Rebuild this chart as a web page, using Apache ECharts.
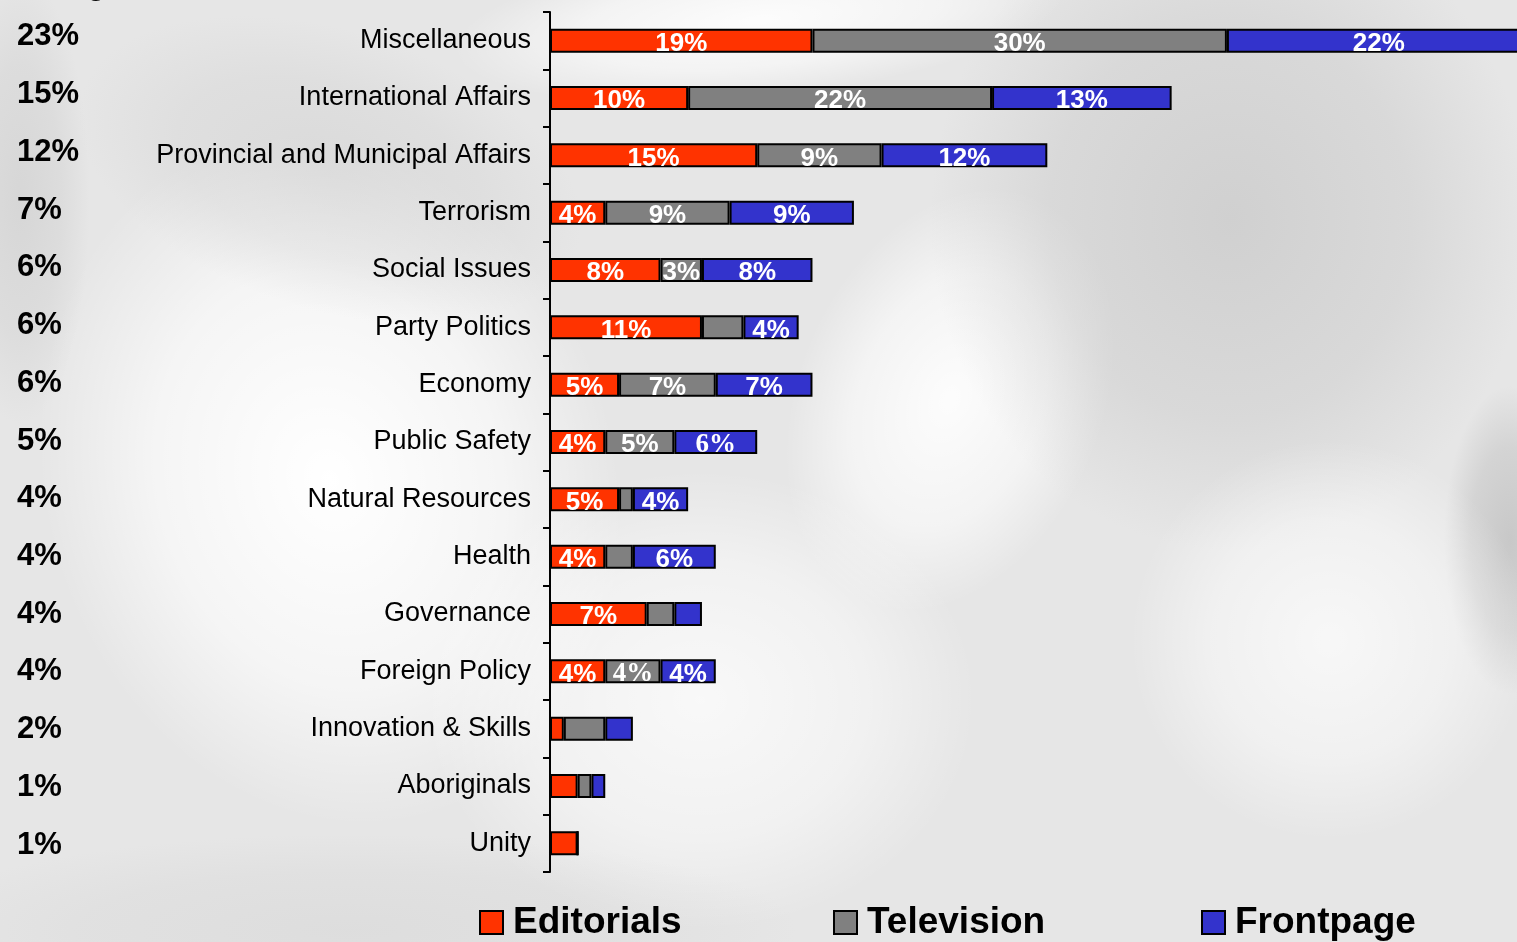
<!DOCTYPE html>
<html>
<head>
<meta charset="utf-8">
<title>Coverage by topic</title>
<script src="https://cdn.jsdelivr.net/npm/echarts@6/dist/echarts.min.js"></script>
<style>
  html, body { margin: 0; padding: 0; background: #e6e6e6; }
  #chart { width: 1517px; height: 942px; }
</style>
</head>
<body>
<div id="chart"></div>
<script>
// Topics, top to bottom
const categories = [
  'Miscellaneous', 'International Affairs', 'Provincial and Municipal Affairs',
  'Terrorism', 'Social Issues', 'Party Politics', 'Economy', 'Public Safety',
  'Natural Resources', 'Health', 'Governance', 'Foreign Policy',
  'Innovation & Skills', 'Aboriginals', 'Unity'
];

// Average share across the three media, shown in the left column
const averageLabels = ['23%', '15%', '12%', '7%', '6%', '6%', '6%', '5%', '4%', '4%', '4%', '4%', '2%', '1%', '1%'];

// Share of each medium's stories per topic (%)
const editorials = [19, 10, 15, 4, 8, 11, 5, 4, 5, 4, 7, 4, 1, 2, 2];
const television = [30, 22, 9, 9, 3, 3, 7, 5, 1, 2, 2, 4, 3, 1, 0];
const frontpage  = [22, 13, 12, 9, 8, 4, 7, 6, 4, 6, 2, 4, 2, 1, 0];

// Which segments carry a value label (1 = labelled)
const editorialsLabelled = [1, 1, 1, 1, 1, 1, 1, 1, 1, 1, 1, 1, 0, 0, 0];
const televisionLabelled = [1, 1, 1, 1, 1, 0, 1, 1, 0, 0, 0, 1, 0, 0, 0];
const frontpageLabelled  = [1, 1, 1, 1, 1, 1, 1, 1, 1, 1, 0, 1, 0, 0, 0];

// A couple of labels were set in a serif face
const televisionSerif = ['Foreign Policy'];
const frontpageSerif  = ['Public Safety'];

const SANS = '"Liberation Sans", Arial, Helvetica, sans-serif';
const SERIF = '"Liberation Serif", "Times New Roman", serif';

function buildItems(values, labelled, serifTopics) {
  return values.map(function (v, i) {
    const item = { value: v, label: { show: labelled[i] === 1 } };
    if (serifTopics.indexOf(categories[i]) >= 0) {
      item.label.fontFamily = SERIF;
      item.label.fontSize = 27;
    }
    return item;
  });
}

const barLabel = {
  show: true,
  position: 'inside',
  offset: [0, 3],
  color: '#ffffff',
  fontFamily: SANS,
  fontWeight: 'bold',
  fontSize: 26,
  formatter: '{c}%'
};

function barSeries(name, color, values, labelled, serifTopics) {
  return {
    name: name,
    type: 'bar',
    stack: 'share',
    xAxisIndex: 0,
    yAxisIndex: 0,
    barWidth: 24,
    clip: false,
    itemStyle: { color: color, borderColor: '#000000', borderWidth: 2 },
    label: barLabel,
    emphasis: { disabled: true },
    data: buildItems(values, labelled, serifTopics)
  };
}

// Soft grey swirl backdrop
function blob(cx, cy, r, sx, sy, rot, color, alpha) {
  return {
    type: 'circle',
    z: -10,
    silent: true,
    x: cx, y: cy, scaleX: sx, scaleY: sy, rotation: rot,
    shape: { cx: 0, cy: 0, r: r },
    style: {
      fill: new echarts.graphic.RadialGradient(0.5, 0.5, 0.5, [
        { offset: 0, color: 'rgba(' + color + ',' + alpha + ')' },
        { offset: 0.6, color: 'rgba(' + color + ',' + (alpha * 0.6) + ')' },
        { offset: 1, color: 'rgba(' + color + ',0)' }
      ])
    }
  };
}

const backdrop = [
  blob(330, 480, 260, 1.1, 1.35, 0.3, '255,255,255', 1),
  blob(950, 400, 170, 0.9, 1.3, -0.4, '255,255,255', 0.9),
  blob(760, 20, 220, 1.4, 0.35, 0.1, '255,255,255', 0.9),
  blob(1230, 220, 300, 1.0, 1.1, 0, '190,190,190', 0.55),
  blob(1510, 540, 110, 0.6, 1.4, 0, '170,170,170', 0.5),
  blob(1330, 640, 200, 1.0, 1.0, 0, '255,255,255', 0.7),
  blob(700, 700, 230, 1.2, 1.0, 0, '255,255,255', 0.75),
  blob(20, 200, 140, 0.5, 1.6, 0, '195,195,195', 0.45),
  blob(330, 170, 200, 1.3, 0.7, -0.3, '200,200,200', 0.4),
  blob(350, 930, 320, 1.4, 0.3, 0, '205,205,205', 0.35)
];

const legendCommon = {
  orient: 'horizontal',
  top: 904,
  padding: 0,
  icon: 'rect',
  itemWidth: 23,
  itemHeight: 23,
  selectedMode: false,
  itemStyle: { borderColor: '#000000', borderWidth: 2 },
  textStyle: {
    color: '#000000',
    fontFamily: SANS,
    fontWeight: 'bold',
    fontSize: 37,
    padding: [0, 0, 0, 5]
  }
};

const chart = echarts.init(document.getElementById('chart'), null, { renderer: 'canvas' });

chart.setOption({
  backgroundColor: '#e6e6e6',
  animation: false,
  graphic: backdrop.concat([
    {
      type: 'text',
      z: 5,
      silent: true,
      x: 5,
      y: -13,
      style: {
        text: 'Average',
        fill: '#000000',
        font: 'bold 30px ' + SANS,
        align: 'left',
        verticalAlign: 'middle'
      }
    }
  ]),
  legend: [
    Object.assign({}, legendCommon, { left: 479, data: ['Editorials'] }),
    Object.assign({}, legendCommon, { left: 833, data: ['Television'] }),
    Object.assign({}, legendCommon, { left: 1201, data: ['Frontpage'] })
  ],
  grid: [
    { left: 550, top: 12, right: 0, bottom: 70, containLabel: false },
    { left: 17, top: 8, width: 10, bottom: 68, containLabel: false }
  ],
  xAxis: [
    { type: 'value', gridIndex: 0, min: 0, max: 70, show: false },
    { type: 'value', gridIndex: 1, min: 0, max: 1, show: false }
  ],
  yAxis: [
    {
      type: 'category',
      gridIndex: 0,
      data: categories,
      inverse: true,
      axisLine: { show: true, lineStyle: { color: '#000000', width: 2 } },
      axisTick: { show: true, inside: false, length: 7, lineStyle: { color: '#000000', width: 2 } },
      splitLine: { show: false },
      axisLabel: {
        interval: 0,
        margin: 19,
        color: '#000000',
        fontFamily: SANS,
        fontSize: 27
      }
    },
    {
      type: 'category',
      gridIndex: 1,
      data: averageLabels,
      inverse: true,
      axisLine: { show: false },
      axisTick: { show: false },
      splitLine: { show: false },
      axisLabel: {
        interval: 0,
        margin: 0,
        align: 'left',
        color: '#000000',
        fontFamily: SANS,
        fontWeight: 'bold',
        fontSize: 31
      }
    }
  ],
  series: [
    barSeries('Editorials', '#FF3300', editorials, editorialsLabelled, []),
    barSeries('Television', '#808080', television, televisionLabelled, televisionSerif),
    barSeries('Frontpage', '#3333CC', frontpage, frontpageLabelled, frontpageSerif)
  ]
});
</script>
</body>
</html>
